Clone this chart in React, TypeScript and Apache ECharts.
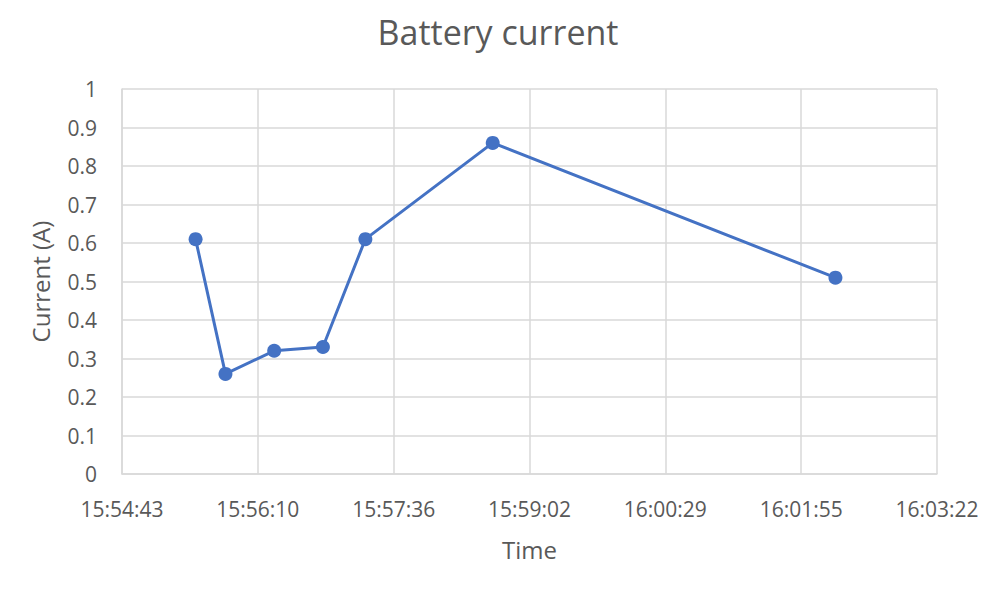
import React, { useEffect, useRef } from "react";
import * as echarts from "echarts";

const times = ["15:55:30", "15:55:49", "15:56:20", "15:56:51", "15:57:18", "15:58:39", "16:02:17"];
const currents = [0.61, 0.26, 0.32, 0.33, 0.61, 0.86, 0.51];
const chartTitle = "Battery current";
const xName = "Time";
const yName = "Current (A)";

const UNIT = 86.4; // seconds per x unit (0.001 day)
const toUnits = (t: string) => {
  const [h, m, s] = t.split(":").map(Number);
  return (h * 3600 + m * 60 + s) / UNIT;
};
const fmt = (v: number) => {
  const tot = Math.round(v * UNIT);
  const h = Math.floor(tot / 3600);
  const m = Math.floor((tot % 3600) / 60);
  const s = tot % 60;
  const p = (n: number) => String(n).padStart(2, "0");
  return `${h}:${p(m)}:${p(s)}`;
};

export default function App() {
  const ref = useRef<HTMLDivElement>(null);
  useEffect(() => {
    if (!ref.current) return;
    const chart = echarts.init(ref.current, undefined, { renderer: "svg" });
    const font = "'Open Sans', sans-serif";
    chart.setOption({
      animation: false,
      backgroundColor: "#ffffff",
      title: {
        text: chartTitle,
        left: "center",
        top: 10,
        textStyle: { color: "#595959", fontSize: 34, fontWeight: "normal", fontFamily: font },
      },
      grid: { left: 122, right: 59, top: 89, bottom: 118 },
      xAxis: {
        type: "value",
        min: 663,
        max: 669,
        interval: 1,
        name: xName,
        nameLocation: "middle",
        nameGap: 63,
        nameTextStyle: { color: "#595959", fontSize: 24, fontFamily: font },
        axisLine: { show: true, lineStyle: { color: "#d9d9d9", width: 1.5 } },
        axisTick: { show: false },
        axisLabel: { color: "#595959", fontSize: 21, fontFamily: font, margin: 24, formatter: (v: number) => fmt(v) },
        splitLine: { show: true, lineStyle: { color: "#d9d9d9", width: 1.5 } },
      },
      yAxis: {
        type: "value",
        min: 0,
        max: 1,
        interval: 0.1,
        name: yName,
        nameLocation: "middle",
        nameGap: 70,
        nameTextStyle: { color: "#595959", fontSize: 24, fontFamily: font },
        axisLine: { show: true, lineStyle: { color: "#d9d9d9", width: 1.5 } },
        axisTick: { show: false },
        axisLabel: {
          color: "#595959",
          fontSize: 21,
          fontFamily: font,
          margin: 25,
          formatter: (v: number) => String(Math.round(v * 10) / 10),
        },
        splitLine: { show: true, lineStyle: { color: "#d9d9d9", width: 1.5 } },
      },
      series: [
        {
          type: "line",
          data: times.map((t, i) => [toUnits(t), currents[i]]),
          symbol: "circle",
          symbolSize: 14,
          itemStyle: { color: "#4472C4" },
          lineStyle: { color: "#4472C4", width: 3 },
        },
      ],
    });
    return () => chart.dispose();
  }, []);
  return <div ref={ref} style={{ position: "fixed", left: 0, top: 0, width: 996, height: 592 }} />;
}
